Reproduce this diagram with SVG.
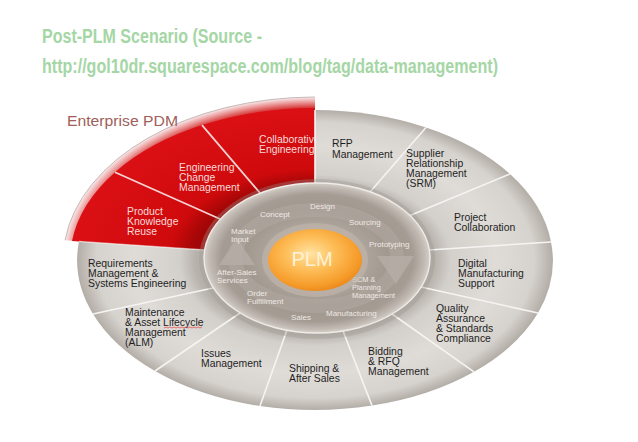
<svg xmlns="http://www.w3.org/2000/svg" width="638" height="442" viewBox="0 0 638 442">
<defs>
<radialGradient id="gGray" gradientUnits="userSpaceOnUse" cx="0" cy="0" r="1" gradientTransform="translate(315 260) scale(238 150)">
<stop offset="0.5" stop-color="#b7b1ab"/>
<stop offset="0.57" stop-color="#d3cfcb"/>
<stop offset="0.76" stop-color="#dfdcd8"/>
<stop offset="0.92" stop-color="#d6d2cd"/>
<stop offset="1" stop-color="#b3ada7"/>
</radialGradient>
<radialGradient id="gRed" gradientUnits="userSpaceOnUse" cx="0" cy="0" r="1" gradientTransform="translate(315 260) scale(245 152)">
<stop offset="0.5" stop-color="#a20606"/>
<stop offset="0.6" stop-color="#cf0a0c"/>
<stop offset="1" stop-color="#da1014"/>
</radialGradient>
<radialGradient id="gRim" gradientUnits="userSpaceOnUse" cx="0" cy="0" r="1" gradientTransform="translate(315 260) scale(252 163)">
<stop offset="0.93" stop-color="#d42c2c"/>
<stop offset="0.97" stop-color="#eb9c9c"/>
<stop offset="1" stop-color="#f9ecec"/>
</radialGradient>
<radialGradient id="gRing" gradientUnits="userSpaceOnUse" cx="0" cy="0" r="1" gradientTransform="translate(317 258) scale(113 75)">
<stop offset="0" stop-color="#bdb5ad"/>
<stop offset="0.45" stop-color="#aca39b"/>
<stop offset="0.65" stop-color="#a0978f"/>
<stop offset="0.85" stop-color="#a59c94"/>
<stop offset="0.95" stop-color="#c1bab3"/>
<stop offset="1" stop-color="#d6d0ca"/>
</radialGradient>
<radialGradient id="gOrange" cx="0.45" cy="0.4" r="0.62">
<stop offset="0" stop-color="#ffe4a4"/>
<stop offset="0.45" stop-color="#fdbc56"/>
<stop offset="0.85" stop-color="#f59a28"/>
<stop offset="1" stop-color="#ea881c"/>
</radialGradient>
<style>
.title{font-family:"Liberation Sans",Arial,sans-serif;font-weight:bold;font-size:19.5px;fill:#a5d6a5}
.lbl{font-family:"Liberation Sans",Arial,sans-serif;font-size:10.4px;fill:#1e1e1e}
.rlbl{font-family:"Liberation Sans",Arial,sans-serif;font-size:10.4px;fill:#f8dada}
.ilbl{font-family:"Liberation Sans",Arial,sans-serif;font-size:8px;fill:#efe9e3}
.slbl{font-family:"Liberation Sans",Arial,sans-serif;font-size:7.4px;fill:#efe9e3}
.gseg{fill:url(#gGray)}
.rseg{fill:url(#gRed)}
.div{stroke:#f6f4f2;stroke-width:1.6;fill:none}
.rdiv{stroke:#f4d2d2;stroke-width:1.8;fill:none}
</style>
</defs>

<g id="title">
<text class="title" x="42" y="42.5" textLength="220" lengthAdjust="spacingAndGlyphs">Post-PLM Scenario (Source -</text>
<text class="title" x="42" y="73" textLength="456" lengthAdjust="spacingAndGlyphs">http://gol10dr.squarespace.com/blog/tag/data-management)</text>
</g>

<g id="enterprise-pdm-rim">
<path d="M205,250 L65,240.3 A252,163 0 0 1 315,97 L315,183 Z" fill="url(#gRim)"/>
<path d="M65,240.3 A252,163 0 0 1 315,97" fill="none" stroke="#b9aaaa" stroke-width="0.8"/>
</g>

<g id="seg-product-knowledge-reuse">
<path class="rseg" d="M205,250 L72,240.9 A245,152 0 0 1 115,172.2 L220,219 Z"/>
<text class="rlbl" x="127" y="215">Product<tspan x="127" dy="10">Knowledge</tspan><tspan x="127" dy="10">Reuse</tspan></text>
</g>
<g id="seg-engineering-change-management">
<path class="rseg" d="M220,219 L115,172.2 A245,152 0 0 1 202,125.1 L260,193 Z"/>
<text class="rlbl" x="179" y="171">Engineering<tspan x="179" dy="10">Change</tspan><tspan x="179" dy="10">Management</tspan></text>
</g>
<g id="seg-collaborative-engineering">
<path class="rseg" d="M260,193 L202,125.1 A245,152 0 0 1 315,108 L315,183 Z"/>
<text class="rlbl" x="259" y="143">Collaborative<tspan x="259" dy="10">Engineering</tspan></text>
</g>

<g id="enterprise-pdm-label">
<text x="67" y="126" font-family="Liberation Sans, Arial, sans-serif" font-size="14.5" fill="#a0605a" textLength="111" lengthAdjust="spacingAndGlyphs">Enterprise PDM</text>
</g>

<g id="seg-rfp-management">
<path class="gseg" d="M315,183 L315,110 A238,150 0 0 1 426,127.5 L370,192 Z"/>
<text class="lbl" x="332" y="147">RFP<tspan x="332" dy="10.5">Management</tspan></text>
</g>
<g id="seg-srm">
<path class="gseg" d="M370,192 L426,127.5 A238,150 0 0 1 510,174 L410,215.4 Z"/>
<text class="lbl" x="406" y="157">Supplier<tspan x="406" dy="10">Relationship</tspan><tspan x="406" dy="10">Management</tspan><tspan x="406" dy="10">(SRM)</tspan></text>
</g>
<g id="seg-project-collaboration">
<path class="gseg" d="M410,215.4 L510,174 A238,150 0 0 1 551,242 L429,250 Z"/>
<text class="lbl" x="454" y="221">Project<tspan x="454" dy="10">Collaboration</tspan></text>
</g>
<g id="seg-digital-manufacturing">
<path class="gseg" d="M429,250 L551,242 A238,150 0 0 1 538,313 L421,287 Z"/>
<text class="lbl" x="458" y="267">Digital<tspan x="458" dy="10">Manufacturing</tspan><tspan x="458" dy="10">Support</tspan></text>
</g>
<g id="seg-quality-assurance">
<path class="gseg" d="M421,287 L538,313 A238,150 0 0 1 474,371.8 L392,314 Z"/>
<text class="lbl" x="436" y="312">Quality<tspan x="436" dy="10">Assurance</tspan><tspan x="436" dy="10">&amp; Standards</tspan><tspan x="436" dy="9.8">Compliance</tspan></text>
</g>
<g id="seg-bidding-rfq">
<path class="gseg" d="M392,314 L474,371.8 A238,150 0 0 1 372,405.6 L343,331 Z"/>
<text class="lbl" x="368" y="355">Bidding<tspan x="368" dy="10">&amp; RFQ</tspan><tspan x="368" dy="10">Management</tspan></text>
</g>
<g id="seg-shipping-after-sales">
<path class="gseg" d="M343,331 L372,405.6 A238,150 0 0 1 260,406 L287,330 Z"/>
<text class="lbl" x="289" y="372">Shipping &amp;<tspan x="289" dy="10">After Sales</tspan></text>
</g>
<g id="seg-issues-management">
<path class="gseg" d="M287,330 L260,406 A238,150 0 0 1 155,371 L240,313 Z"/>
<text class="lbl" x="201" y="357">Issues<tspan x="201" dy="10">Management</tspan></text>
</g>
<g id="seg-maintenance-alm">
<path class="gseg" d="M240,313 L155,371 A238,150 0 0 1 93,314 L213,288 Z"/>
<text class="lbl" x="125" y="316">Maintenance<tspan x="125" dy="10">&amp; Asset Lifecycle</tspan><tspan x="125" dy="10">Management</tspan><tspan x="125" dy="9.7">(ALM)</tspan></text>
<path d="M164,328 l2,-1 l2,1 l2,-1 l2,1 l2,-1 l2,1 l2,-1 l2,1 l2,-1 l2,1 l2,-1 l2,1 l2,-1 l2,1 l2,-1 l2,1 l2,-1 l2,1 l2,-1" fill="none" stroke="#e04040" stroke-width="0.7"/>
</g>
<g id="seg-requirements-management">
<path class="gseg" d="M213,288 L93,314 A238,150 0 0 1 79,241.5 L205,250 Z"/>
<text class="lbl" x="88" y="267">Requirements<tspan x="88" dy="10">Management &amp;</tspan><tspan x="88" dy="10">Systems Engineering</tspan></text>
</g>

<g id="dividers">
<line class="div" x1="315" y1="183" x2="315" y2="110"/>
<line class="div" x1="370" y1="192" x2="426" y2="127.5"/>
<line class="div" x1="410" y1="215.4" x2="510" y2="174"/>
<line class="div" x1="429" y1="250" x2="551" y2="242"/>
<line class="div" x1="421" y1="287" x2="538" y2="313"/>
<line class="div" x1="392" y1="314" x2="474" y2="371.8"/>
<line class="div" x1="343" y1="331" x2="372" y2="405.6"/>
<line class="div" x1="287" y1="330" x2="260" y2="406"/>
<line class="div" x1="240" y1="313" x2="155" y2="371"/>
<line class="div" x1="213" y1="288" x2="93" y2="314"/>
<line class="div" x1="205" y1="250" x2="79" y2="241.5" stroke-opacity="0.6"/>
<line class="rdiv" x1="220" y1="219" x2="115" y2="172.2"/>
<line class="rdiv" x1="260" y1="193" x2="202" y2="125.1"/>
</g>

<g id="plm-lifecycle-ring">
<ellipse cx="317" cy="259" rx="118" ry="80" fill="#9e9892" opacity="0.35"/>
<ellipse cx="317" cy="258" rx="113" ry="75" fill="url(#gRing)" stroke="#efebe7" stroke-width="1.4"/>
<ellipse cx="316" cy="258" rx="81" ry="48" fill="none" stroke="#b6aea6" stroke-opacity="0.45" stroke-width="14"/>
<polygon points="237,238 219,265 255,265" fill="#b6aea6" opacity="0.8"/>
<polygon points="377,256 414,256 396,284" fill="#b6aea6" opacity="0.8"/>
<text class="ilbl" x="310" y="209">Design</text>
<text class="ilbl" x="260" y="217">Concept</text>
<text class="ilbl" x="349" y="225">Sourcing</text>
<text class="ilbl" x="231" y="234">Market<tspan x="231" dy="8.4">Input</tspan></text>
<text class="ilbl" x="369" y="247">Prototyping</text>
<text class="ilbl" x="217" y="275">After-Sales<tspan x="217" dy="8.4">Services</tspan></text>
<text class="slbl" x="352" y="282">SCM &amp;<tspan x="352" dy="7.8">Planning</tspan><tspan x="352" dy="7.8">Management</tspan></text>
<text class="ilbl" x="247" y="296">Order<tspan x="247" dy="8.4">Fulfillment</tspan></text>
<text class="ilbl" x="326" y="316">Manufacturing</text>
<text class="ilbl" x="291" y="320">Sales</text>
</g>

<g id="plm-core">
<ellipse cx="315" cy="260" rx="53" ry="37" fill="#c4baaf" opacity="0.55"/>
<ellipse cx="315" cy="260" rx="47" ry="31" fill="url(#gOrange)"/>
<text x="312" y="266" text-anchor="middle" font-family="Liberation Sans, Arial, sans-serif" font-size="20" fill="#fff2d6">PLM</text>
</g>
</svg>
